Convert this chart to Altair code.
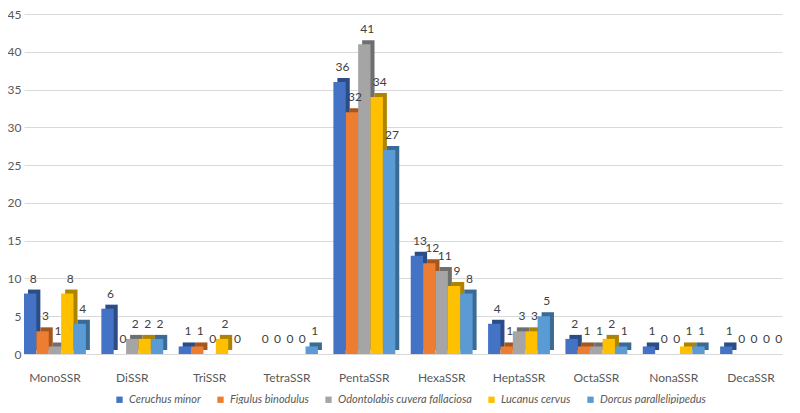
import altair as alt
import pandas as pd

categories = ["MonoSSR", "DiSSR", "TriSSR", "TetraSSR", "PentaSSR",
              "HexaSSR", "HeptaSSR", "OctaSSR", "NonaSSR", "DecaSSR"]
series = ["Ceruchus minor", "Figulus binodulus", "Odontolabis cuvera fallaciosa",
          "Lucanus cervus", "Dorcus parallelipipedus"]
ceruchus = [8, 6, 1, 0, 36, 13, 4, 2, 1, 1]
figulus = [3, 0, 1, 0, 32, 12, 1, 1, 0, 0]
odontolabis = [1, 2, 0, 0, 41, 11, 3, 1, 0, 0]
lucanus = [8, 2, 2, 0, 34, 9, 3, 2, 1, 0]
dorcus = [4, 2, 0, 1, 27, 8, 5, 1, 1, 0]

values = [ceruchus, figulus, odontolabis, lucanus, dorcus]
rows = []
for s, vals in zip(series, values):
    for c, v in zip(categories, vals):
        rows.append({"category": c, "series": s, "value": v})
df = pd.DataFrame(rows)

front_colors = ["#4472C4", "#ED7D31", "#A5A5A5", "#FFC000", "#5B9BD5"]
dark_colors = ["#2C4C86", "#A5561F", "#6F6F6F", "#AE8300", "#3B6A94"]

W, H = 758, 340
P_INNER = 0.2
step = W / (len(categories) - P_INNER)
bw = step * (1 - P_INNER)
DEPTH = 4

FONT = "Lato"
xenc = alt.X("category:N", sort=categories,
             scale=alt.Scale(paddingInner=P_INNER, paddingOuter=0),
             axis=alt.Axis(title=None, labelAngle=0, ticks=False, domain=False,
                           labelPadding=18, labelFontSize=12, labelColor="#595959",
                           labelFont=FONT, grid=False))
yenc = alt.Y("value:Q", scale=alt.Scale(domain=[0, 45]),
             axis=alt.Axis(title=None, values=list(range(0, 46, 5)), ticks=False,
                           domain=False, labelFontSize=12, labelColor="#595959",
                           labelFont=FONT, labelPadding=3, gridColor="#D9D9D9"))

base = alt.Chart(df)

shadow = base.mark_bar(yOffset=-DEPTH).encode(
    x=xenc,
    xOffset=alt.XOffset("series:N", sort=series,
                        scale=alt.Scale(range=[DEPTH, bw + DEPTH])),
    y=yenc,
    color=alt.Color("series:N", sort=series,
                    scale=alt.Scale(domain=series, range=dark_colors), legend=None),
)

front = base.mark_bar().encode(
    x=xenc,
    xOffset=alt.XOffset("series:N", sort=series,
                        scale=alt.Scale(range=[0, bw])),
    y=yenc,
    color=alt.Color("series:N", sort=series,
                    scale=alt.Scale(domain=series, range=front_colors),
                    legend=alt.Legend(title=None, orient="none", direction="horizontal",
                                      legendX=90, legendY=380, symbolType="square",
                                      symbolSize=40, labelFontStyle="italic",
                                      labelFontSize=11, labelColor="#595959",
                                      labelFont=FONT, columnPadding=14,
                                      symbolStrokeWidth=0)),
)

labels = base.mark_text(dy=-15, dx=3, fontSize=12, color="#404040", font=FONT).encode(
    x=xenc,
    xOffset=alt.XOffset("series:N", sort=series,
                        scale=alt.Scale(range=[0, bw])),
    y=yenc, text="value:Q",
)

chart = alt.layer(shadow, front, labels).resolve_scale(
    color="independent", xOffset="independent"
).properties(
    width=W, height=H,
    padding={"left": 16, "top": 6, "right": 8, "bottom": 50},
    autosize=alt.AutoSizeParams(type="none"),
).configure_view(stroke=None)

chart.save("out.html", embed_options={"renderer": "svg", "actions": False})
